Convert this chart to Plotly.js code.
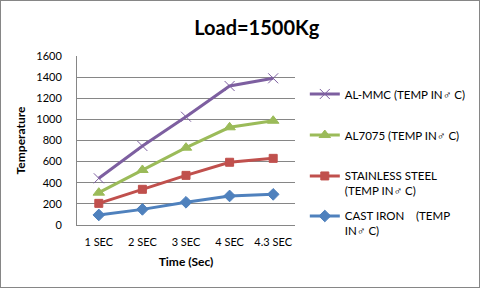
<!DOCTYPE html>
<html>
<head>
<meta charset="utf-8">
<script src="https://cdn.plot.ly/plotly-3.0.1.min.js"></script>
<style>
html,body{margin:0;padding:0;background:#fff;}
#chart{width:478px;height:286px;border:1px solid #868686;}
</style>
</head>
<body>
<div id="chart"></div>
<script>
var categories = ["1 SEC", "2 SEC", "3 SEC", "4 SEC", "4.3 SEC"];
var castIron = [95, 148, 215, 275, 290];
var stainless = [205, 338, 470, 594, 631];
var al7075 = [306, 521, 732, 925, 987];
var alMmc = [442, 748, 1025, 1316, 1389];
var names = [
  "AL-MMC (TEMP IN\u2642 C)",
  "AL7075 (TEMP IN\u2642 C)",
  "STAINLESS STEEL<br>(TEMP IN\u2642 C)",
  "CAST IRON    (TEMP<br>IN\u2642 C)"
];
var yTicks = [0, 200, 400, 600, 800, 1000, 1200, 1400, 1600];

function tr(y, name, color, symbol, size, leg) {
  return {
    x: categories, y: y, name: name, type: "scatter", mode: "lines+markers",
    line: {color: color, width: 3},
    marker: {symbol: symbol, size: size, color: color, line: {color: color, width: 1}},
    legend: leg
  };
}
var data = [
  tr(alMmc, names[0], "#7D5FA0", "x-thin-open", 10, "legend"),
  tr(al7075, names[1], "#9BBB59", "triangle-up", 10, "legend2"),
  tr(stainless, names[2], "#C0504D", "square", 8, "legend3"),
  tr(castIron, names[3], "#4F81BD", "diamond", 9, "legend4")
];
function leg(y) {
  return {x: 1.045, xanchor: "left", y: y, yanchor: "top", valign: "top",
          font: {size: 11.5}, bgcolor: "rgba(0,0,0,0)", itemwidth: 30};
}
var layout = {
  width: 478, height: 286,
  margin: {l: 76, r: 184, t: 55, b: 62, autoexpand: false},
  paper_bgcolor: "#fff", plot_bgcolor: "#fff",
  font: {family: "Lato, 'Open Sans', sans-serif", size: 11, color: "#000"},
  title: {text: "<b>Load=1500Kg</b>", x: 0.535, xanchor: "center", y: 0.906, yanchor: "middle",
          font: {family: "Lato, sans-serif", size: 20, color: "#000"}},
  xaxis: {
    type: "category", range: [-0.5, 4.5], showgrid: false,
    showline: true, linecolor: "#868686", linewidth: 1, ticks: "",
    ticklabelstandoff: 7,
    title: {text: "<b>Time (Sec)</b>", font: {size: 12}, standoff: 10},
    tickfont: {size: 11}
  },
  yaxis: {
    range: [0, 1600], tickvals: yTicks, showgrid: true, gridcolor: "#868686", gridwidth: 1,
    showline: true, linecolor: "#868686", linewidth: 1, ticks: "",
    ticklabelstandoff: 12,
    zeroline: false,
    title: {text: "<b>Temperature</b>", font: {size: 12}, standoff: 8},
    tickfont: {size: 11}
  },
  showlegend: true,
  legend: leg(0.858),
  legend2: leg(0.615),
  legend3: leg(0.373),
  legend4: leg(0.136)
};
Plotly.newPlot("chart", data, layout, {displayModeBar: false, staticPlot: true});
</script>
</body>
</html>
